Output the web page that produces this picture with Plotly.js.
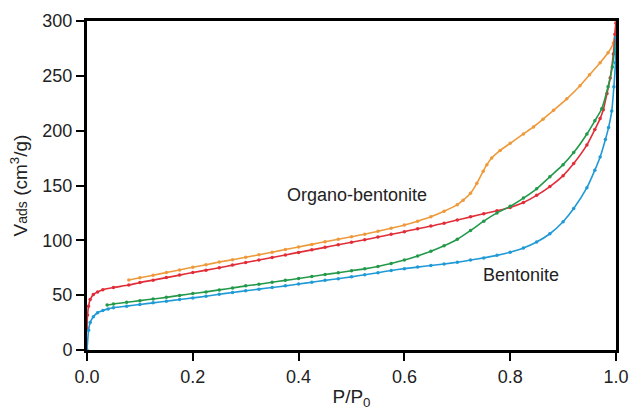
<!DOCTYPE html>
<html>
<head>
<meta charset="utf-8">
<script src="https://cdn.plot.ly/plotly-3.0.1.min.js"></script>
<style>html,body{margin:0;padding:0;background:#fff;}#chart{width:634px;height:411px;}</style>
</head>
<body>
<div id="chart"></div>
<script>
// Bentonite adsorption (blue)
const bentAdsX = [0,0.003,0.006,0.012,0.02,0.03,0.04,0.05,0.075,0.1,0.125,0.15,0.175,0.2,0.225,0.25,0.275,0.3,0.325,0.35,0.375,0.4,0.425,0.45,0.475,0.5,0.525,0.55,0.575,0.6,0.625,0.65,0.675,0.7,0.725,0.75,0.775,0.8,0.825,0.85,0.875,0.9,0.92,0.945,0.96,0.97,0.98,0.986,0.992,0.996,0.999,1.0];
const bentAdsY = [0,18,25,30.4,34,36,37.5,38.5,40,41.5,43,44.5,46,47.5,49,50.8,52.5,54,55.5,57,58.5,60.2,61.8,63.5,65,66.7,68.6,70.5,72.5,74.2,75.6,77,78.4,80,82,84,86.3,89.2,93,98.5,106,117,129,148,164,176,192,203,218,240,262,285];
// Bentonite desorption (green)
const bentDesX = [0.038,0.05,0.075,0.1,0.125,0.15,0.175,0.2,0.225,0.25,0.275,0.3,0.325,0.35,0.375,0.4,0.425,0.45,0.475,0.5,0.525,0.55,0.575,0.6,0.625,0.65,0.675,0.7,0.725,0.75,0.775,0.8,0.825,0.85,0.875,0.9,0.92,0.945,0.96,0.973,0.985,0.993,1.0];
const bentDesY = [41,42,43.5,45,46.5,48,49.8,51.5,53,54.8,56.5,58.5,60,61.8,63.5,65.2,67,68.8,70.5,72.3,74,76.2,78.8,82,85.8,90,95,101,109,117.5,125,131,138.5,147,158,169,180,197,209,220,240,258,285];
// Organo-bentonite adsorption (red)
const orgAdsX = [0,0.001,0.003,0.006,0.012,0.02,0.03,0.05,0.079,0.1,0.125,0.15,0.175,0.2,0.225,0.25,0.275,0.3,0.325,0.35,0.375,0.4,0.425,0.45,0.475,0.5,0.525,0.55,0.575,0.6,0.625,0.65,0.675,0.7,0.725,0.75,0.775,0.8,0.825,0.85,0.875,0.9,0.92,0.945,0.96,0.97,0.976,0.983,0.989,0.995,0.998,1.0];
const orgAdsY = [20,32,40,46,50.5,53,55,57,59.2,61.5,63.7,66,68.3,70.6,72.8,75,77.4,79.8,82,84.4,86.7,89,91.3,93.6,96,98.2,100.5,103,105.5,107.8,110.5,113,115.5,118.5,121.4,124.3,127,130,134.5,141,149,159,170,187,201,211,219,234,248,270,288,298];
// Organo-bentonite desorption (orange)
const orgDesX = [0.079,0.1,0.125,0.15,0.175,0.2,0.225,0.25,0.275,0.3,0.325,0.35,0.375,0.4,0.425,0.45,0.475,0.5,0.525,0.55,0.575,0.6,0.625,0.65,0.675,0.7,0.711,0.725,0.737,0.749,0.756,0.765,0.781,0.8,0.825,0.844,0.862,0.882,0.907,0.932,0.95,0.97,0.985,0.995,1.0];
const orgDesY = [63.8,65.8,68.2,70.6,73,75.5,77.8,80.2,82.3,84.5,86.8,89.2,91.6,94,96.3,98.7,101,103.3,105.5,108.3,111,114,117.5,121.5,126.5,132.5,136.6,143,152,163,169,175,182,188.5,197,203.4,210.5,218.6,229,241,251,262,271,280,300];

const labelTexts = ["Organo-bentonite", "Bentonite"];
const labelX = [0.511, 0.821];
const labelY = [141, 68];
const xTicks = [0, 0.2, 0.4, 0.6, 0.8, 1.0];
const xTickText = ["0.0", "0.2", "0.4", "0.6", "0.8", "1.0"];
const yTicks = [0, 50, 100, 150, 200, 250, 300];

function series(x, y, color) {
  return {
    x: x, y: y, type: 'scatter', mode: 'lines+markers',
    line: {color: color, width: 1.6, shape: 'spline', smoothing: 0.6},
    marker: {color: color, size: 3.5},
    showlegend: false, hoverinfo: 'skip'
  };
}

const data = [
  series(orgDesX, orgDesY, '#ee9a3a'),
  series(orgAdsX, orgAdsY, '#e12d38'),
  series(bentDesX, bentDesY, '#23994a'),
  series(bentAdsX, bentAdsY, '#1f9ad6')
];

const fontFam = 'Liberation Sans, Arial, Helvetica, sans-serif';

const layout = {
  width: 634, height: 411,
  margin: {l: 87, r: 18, t: 21, b: 61},
  paper_bgcolor: '#fff', plot_bgcolor: '#fff',
  font: {family: fontFam, size: 18, color: '#222'},
  xaxis: {
    range: [0, 1], tickvals: xTicks, ticktext: xTickText,
    showline: true, linecolor: '#000', linewidth: 3, mirror: true,
    ticks: 'outside', ticklen: 8, tickwidth: 2, tickcolor: '#000',
    showgrid: false, zeroline: false,
    tickfont: {size: 18, color: '#222'},
    title: {text: 'P/P<sub>0</sub>', font: {size: 19, color: '#222'}, standoff: 5}
  },
  yaxis: {
    range: [0, 300], tickvals: yTicks,
    showline: true, linecolor: '#000', linewidth: 3, mirror: true,
    ticks: 'outside', ticklen: 8, tickwidth: 2, tickcolor: '#000',
    showgrid: false, zeroline: false,
    tickfont: {size: 18, color: '#222'},
    title: {text: "V<span style='font-size:14px'>ads</span> (cm<sup>3</sup>/g)", font: {size: 19, color: '#222'}, standoff: 10}
  },
  annotations: labelTexts.map((t, i) => ({
    x: labelX[i], y: labelY[i], xref: 'x', yref: 'y', text: t,
    showarrow: false, font: {size: 18, color: '#222', family: fontFam}
  }))
};

Plotly.newPlot('chart', data, layout, {displayModeBar: false, staticPlot: true});
</script>
</body>
</html>
